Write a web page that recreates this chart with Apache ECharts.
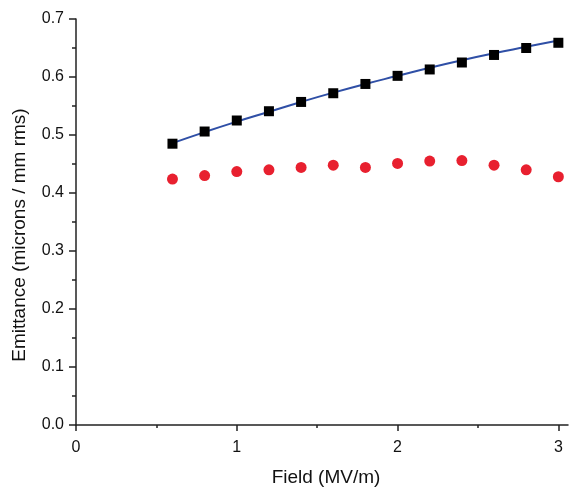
<!DOCTYPE html>
<html><head><meta charset="utf-8">
<script src="https://cdn.jsdelivr.net/npm/echarts@6/dist/echarts.min.js"></script>
<style>html,body{margin:0;padding:0;background:#fff}#c{width:571px;height:487px}</style>
</head><body><div id="c"></div>
<script>
const fieldValues = [0.6, 0.8, 1.0, 1.2, 1.4, 1.6, 1.8, 2.0, 2.2, 2.4, 2.6, 2.8, 3.0];
const squareValues = [0.485, 0.506, 0.525, 0.541, 0.557, 0.572, 0.588, 0.602, 0.613, 0.625, 0.638, 0.650, 0.659];
const circleValues = [0.424, 0.430, 0.437, 0.440, 0.444, 0.448, 0.444, 0.451, 0.455, 0.456, 0.448, 0.440, 0.428];
const fitValues = [0.486, 0.505, 0.523, 0.540, 0.557, 0.573, 0.588, 0.602, 0.616, 0.629, 0.641, 0.652, 0.663];
const xTickLabels = [0, 1, 2, 3];
const xMinorTicks = [0.5, 1.5, 2.5];
const xTitle = 'Field (MV/m)';
const yTitle = 'Emittance (microns / mm rms)';

const pairs = (ys) => fieldValues.map((x, i) => [x, ys[i]]);
const font = '"Liberation Sans", Arial, sans-serif';
const chart = echarts.init(document.getElementById('c'));
chart.setOption({
  animation: false,
  grid: { left: 76, right: 3, top: 19, bottom: 62, containLabel: false, outerBoundsMode: 'none' },
  xAxis: [{
    type: 'value', min: 0, max: 3.06,
    axisLine: { show: true, lineStyle: { color: '#222', width: 1.5 } },
    axisTick: { show: true, customValues: xTickLabels, length: 6, lineStyle: { color: '#222', width: 1.5 } },
    axisLabel: { customValues: xTickLabels, color: '#111', fontSize: 16, fontFamily: font, margin: 15 },
    splitLine: { show: false },
    name: xTitle, nameLocation: 'middle', nameGap: 43,
    nameTextStyle: { fontSize: 19, color: '#111', fontFamily: font, padding: [0, 0, 0, 8] }
  }, {
    type: 'value', min: 0, max: 3.06, position: 'bottom',
    axisLine: { show: false },
    axisTick: { show: true, customValues: xMinorTicks, length: 3, lineStyle: { color: '#222', width: 1.5 } },
    axisLabel: { show: false }, splitLine: { show: false }
  }],
  yAxis: {
    type: 'value', min: 0, max: 0.7, interval: 0.1,
    axisLine: { show: true, lineStyle: { color: '#222', width: 1.5 } },
    axisTick: { show: true, length: 7, lineStyle: { color: '#222', width: 1.5 } },
    minorTick: { show: true, splitNumber: 2, length: 4, lineStyle: { color: '#222', width: 1.5 } },
    axisLabel: { formatter: v => v.toFixed(1), color: '#111', fontSize: 16, fontFamily: font, margin: 12 },
    splitLine: { show: false },
    name: yTitle, nameLocation: 'middle', nameGap: 47, nameRotate: 90,
    nameTextStyle: { fontSize: 19, color: '#111', fontFamily: font, padding: [0, 0, 0, -26] }
  },
  series: [
    { type: 'line', data: pairs(fitValues), smooth: true, showSymbol: false, symbol: 'none',
      lineStyle: { color: '#2f4fa6', width: 2 }, z: 2 },
    { type: 'scatter', data: pairs(squareValues), symbol: 'rect', symbolSize: 10,
      itemStyle: { color: '#000', opacity: 1 }, z: 3 },
    { type: 'scatter', data: pairs(circleValues), symbol: 'circle', symbolSize: 11,
      itemStyle: { color: '#e8202f', opacity: 1 }, z: 3 }
  ]
});
</script></body></html>
